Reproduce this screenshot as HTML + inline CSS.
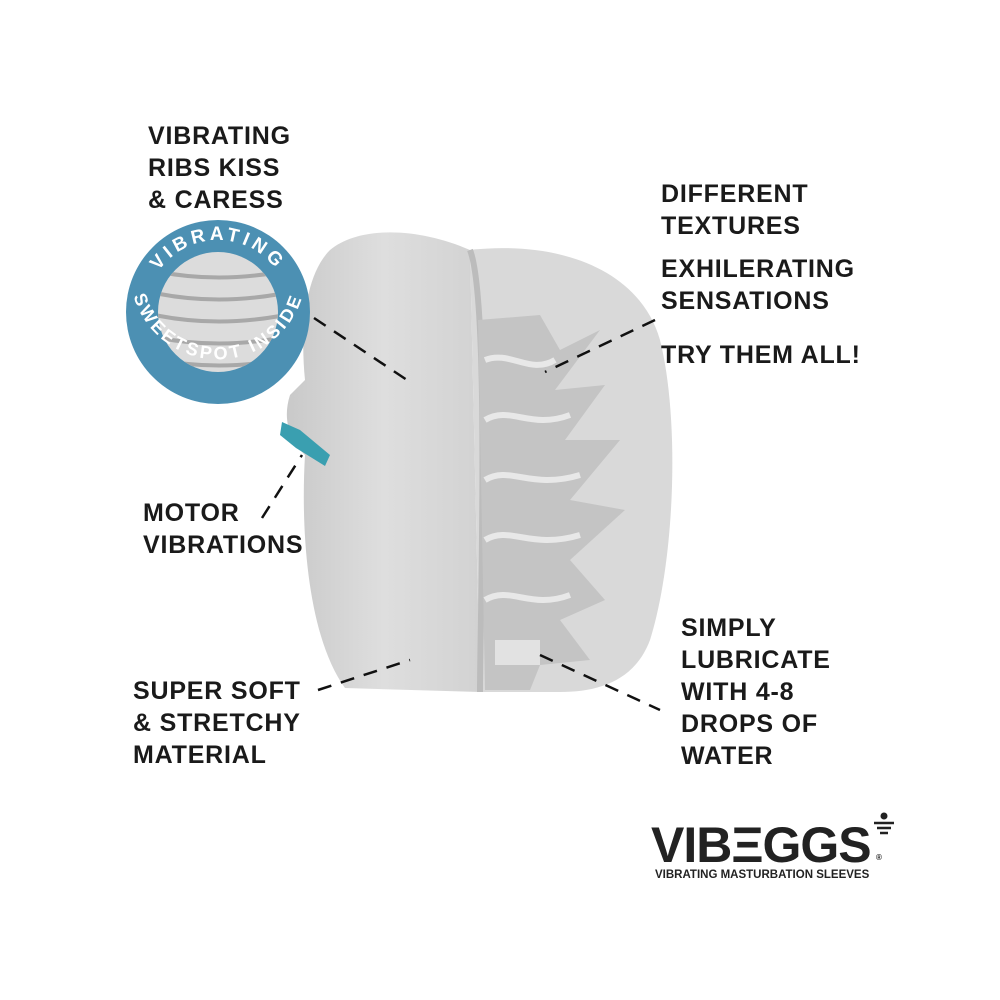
<!DOCTYPE html>
<html><head><meta charset="utf-8"><style>
html,body{margin:0;padding:0;background:#fff;}
svg{display:block}
text{font-family:"Liberation Sans",Arial,sans-serif;font-weight:bold;fill:#1a1a1a}
</style></head><body>
<svg width="1000" height="1000" viewBox="0 0 1000 1000" xmlns="http://www.w3.org/2000/svg">
<defs>
<linearGradient id="g1" x1="0" x2="1"><stop offset="0" stop-color="#c9c9c9"/><stop offset="0.5" stop-color="#dedede"/><stop offset="1" stop-color="#d2d2d2"/></linearGradient>
<path id="arcTop" d="M146,312 A72,72 0 0 1 290,312"/>
<path id="arcBot" d="M132,290 A88,88 0 0 0 304,290"/>
<clipPath id="ci"><circle cx="218" cy="312" r="60"/></clipPath>
</defs>
<path d="M470,250 C420,228 360,225 330,250 C305,275 300,330 305,380 L290,395 C282,420 290,440 305,455 C300,540 310,640 345,688 L480,692 Z" fill="url(#g1)"/>
<path d="M470,250 C560,240 640,270 660,340 C680,420 675,560 650,640 C635,680 600,692 560,692 L480,692 Z" fill="#d9d9d9"/>
<path d="M470,250 C490,300 480,620 480,692" stroke="#bcbcbc" stroke-width="6" fill="none"/>
<path d="M478,320 L540,315 L560,350 L600,330 L555,390 L605,385 L565,440 L620,440 L570,500 L625,510 L570,560 L605,600 L560,620 L590,660 L540,665 L530,690 L485,690 Z" fill="#c4c4c4"/>
<g stroke="#e8e8e8" stroke-width="6" fill="none">
<path d="M485,360 C510,350 530,375 555,360"/>
<path d="M485,420 C510,405 530,430 570,415"/>
<path d="M485,480 C510,465 530,490 580,475"/>
<path d="M485,540 C510,525 530,550 580,535"/>
<path d="M485,600 C510,585 530,610 570,595"/>
</g>
<rect x="495" y="640" width="45" height="25" fill="#e2e2e2"/>
<path d="M282,422 L300,430 L330,455 L325,466 L296,448 L280,435 Z" fill="#3a9fb0"/>
<circle cx="218" cy="312" r="92" fill="#4c90b3"/>
<circle cx="218" cy="312" r="60" fill="#dcdcdc"/>
<g clip-path="url(#ci)" stroke="#a8a8a8" stroke-width="4" fill="none">
<path d="M150,270 Q218,285 290,270"/><path d="M150,292 Q218,307 290,292"/>
<path d="M150,314 Q218,329 290,314"/><path d="M150,336 Q218,351 290,336"/>
<path d="M150,358 Q218,373 290,358"/>
</g>
<text font-size="19" style="fill:#fff" letter-spacing="4"><textPath href="#arcTop" startOffset="50%" text-anchor="middle">VIBRATING</textPath></text>
<text font-size="18" style="fill:#fff" letter-spacing="3"><textPath href="#arcBot" startOffset="50%" text-anchor="middle">SWEETSPOT INSIDE</textPath></text>
<g stroke="#111" stroke-width="2.5" stroke-dasharray="14,10" fill="none">
<line x1="314" y1="318" x2="410" y2="382"/>
<line x1="262" y1="518" x2="302" y2="455"/>
<line x1="318" y1="690" x2="410" y2="660"/>
<line x1="655" y1="320" x2="545" y2="372"/>
<line x1="540" y1="655" x2="660" y2="710"/>
</g>
<g font-size="25" letter-spacing="0.8">
<text x="148" y="144">VIBRATING</text>
<text x="148" y="176">RIBS KISS</text>
<text x="148" y="208">&amp; CARESS</text>
<text x="661" y="202">DIFFERENT</text>
<text x="661" y="234">TEXTURES</text>
<text x="661" y="277">EXHILERATING</text>
<text x="661" y="309">SENSATIONS</text>
<text x="661" y="363">TRY THEM ALL!</text>
<text x="143" y="521">MOTOR</text>
<text x="143" y="553">VIBRATIONS</text>
<text x="133" y="699">SUPER SOFT</text>
<text x="133" y="731">&amp; STRETCHY</text>
<text x="133" y="763">MATERIAL</text>
<text x="681" y="636">SIMPLY</text>
<text x="681" y="668">LUBRICATE</text>
<text x="681" y="700">WITH 4-8</text>
<text x="681" y="732">DROPS OF</text>
<text x="681" y="764">WATER</text>
</g>
<text x="651" y="862" font-size="50" letter-spacing="-1" style="fill:#222">VIBΞGGS</text>
<circle cx="884" cy="816" r="3.5" fill="#222"/>
<path d="M874,823 h20 M877,828 h14 M880,833 h8" stroke="#222" stroke-width="2.5"/>
<text x="876" y="860" font-size="8">®</text>
<text x="655" y="878" font-size="11.5" style="fill:#222">VIBRATING MASTURBATION SLEEVES</text>
</svg>
</body></html>
